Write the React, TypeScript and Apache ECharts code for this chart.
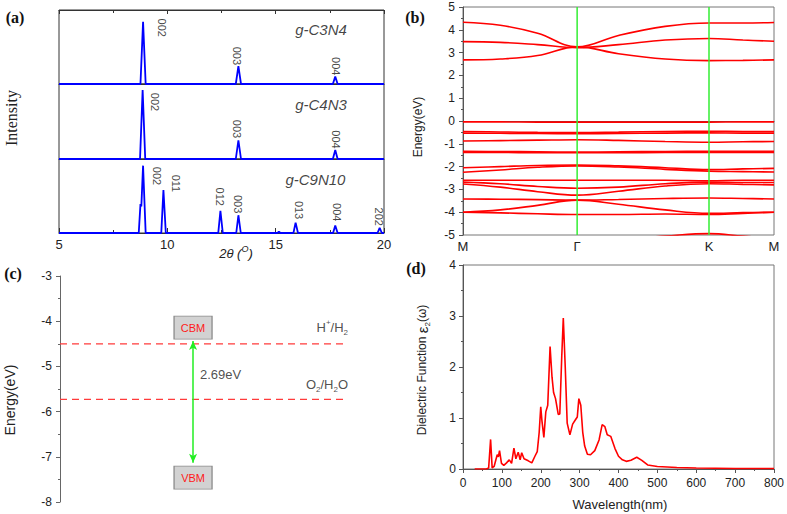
import React, { useEffect, useRef } from "react";
import * as echarts from "echarts";

const FONT = "'Liberation Sans', Arial, sans-serif";
const SERIF = "'Liberation Serif', 'Times New Roman', serif";

// ---------- (a) XRD patterns ----------
const xrdTicks = [5, 10, 15, 20];
const xrdC3N4: number[][] = [[5, 0], [8.76, 0], [8.88, 84], [9.0, 0], [13.16, 0], [13.28, 24], [13.4, 0], [17.64, 0], [17.75, 10], [17.86, 0], [20, 0]];
const xrdC4N3: number[][] = [[5, 0], [8.74, 0], [8.86, 92], [8.98, 0], [13.16, 0], [13.28, 25], [13.4, 0], [17.64, 0], [17.75, 12], [17.86, 0], [20, 0]];
const xrdC9N10: number[][] = [[5, 0], [8.68, 0], [8.76, 39], [8.8, 36], [8.88, 91], [9.0, 0], [9.72, 0], [9.82, 58], [9.93, 0], [12.35, 0], [12.45, 30], [12.56, 0], [13.18, 0], [13.28, 24], [13.39, 0], [15.08, 0], [15.15, 2], [15.22, 0], [15.82, 0], [15.92, 14], [16.03, 0], [17.65, 0], [17.75, 10], [17.86, 0], [19.7, 0], [19.8, 7], [19.9, 0], [20, 0]];
const sampleNames = ["g-C3N4", "g-C4N3", "g-C9N10"];
const peakLabelsC3N4: [number, number, string][] = [[9.77, 76, "002"], [13.22, 38, "003"], [17.77, 24, "004"]];
const peakLabelsC4N3: [number, number, string][] = [[9.45, 76, "002"], [13.23, 40, "003"], [17.77, 26, "004"]];
const peakLabelsC9N10: [number, number, string][] = [[9.52, 77, "002"], [10.42, 67, "011"], [12.45, 49, "012"], [13.28, 39, "003"], [16.08, 31, "013"], [17.83, 28, "004"], [19.77, 22, "202"]];
const sampleNamePos: [number, number][] = [[15.9, 73], [15.9, 73], [15.45, 72]];

// ---------- (b) band structure ----------
const kPath = [0, 0.367, 0.791, 1];
const kLabels = ["M", "Γ", "K", "M"];
const kSamples = [0, 0.12, 0.24, 0.367, 0.5, 0.65, 0.791, 0.9, 1];
const bands: number[][] = [
  [4.33, 4.2, 3.85, 3.25, 3.75, 4.15, 4.3, 4.3, 4.32],
  [3.48, 3.45, 3.35, 3.22, 3.35, 3.55, 3.62, 3.55, 3.5],
  [2.68, 2.72, 2.87, 3.25, 2.95, 2.72, 2.65, 2.66, 2.68],
  [-0.04, -0.04, -0.05, -0.05, -0.05, -0.05, -0.05, -0.04, -0.04],
  [-0.46, -0.48, -0.5, -0.51, -0.49, -0.46, -0.45, -0.46, -0.46],
  [-0.53, -0.54, -0.55, -0.56, -0.55, -0.53, -0.52, -0.53, -0.53],
  [-0.88, -0.86, -0.84, -0.82, -0.85, -0.9, -0.93, -0.91, -0.9],
  [-1.33, -1.34, -1.35, -1.36, -1.35, -1.34, -1.33, -1.33, -1.33],
  [-1.38, -1.38, -1.39, -1.39, -1.39, -1.38, -1.38, -1.38, -1.38],
  [-2.05, -2.0, -1.95, -1.93, -1.97, -2.05, -2.13, -2.1, -2.08],
  [-2.25, -2.15, -2.03, -1.97, -2.02, -2.12, -2.2, -2.22, -2.24],
  [-2.6, -2.6, -2.6, -2.6, -2.6, -2.6, -2.62, -2.6, -2.6],
  [-2.68, -2.75, -2.87, -2.95, -2.9, -2.75, -2.68, -2.7, -2.7],
  [-2.76, -2.9, -3.1, -3.25, -3.08, -2.85, -2.75, -2.78, -2.8],
  [-3.42, -3.43, -3.45, -3.47, -3.44, -3.4, -3.38, -3.4, -3.42],
  [-4.0, -3.9, -3.7, -3.47, -3.65, -3.9, -4.05, -4.02, -4.0],
  [-4.0, -4.03, -4.07, -4.1, -4.1, -4.08, -4.1, -4.05, -4.0],
  [-5.3, -5.3, -5.3, -5.3, -5.2, -5.05, -4.94, -5.05, -5.15],
];

// ---------- (c) band edges ----------
const cbm = -4.44;
const vbm = -7.13;
const gapText = "2.69eV";
const redoxPotentials = [-4.5, -5.73];
const edgeBoxY = [-4.14, -7.46];
const edgeNames = ["CBM", "VBM"];

// ---------- (d) dielectric function ----------
const wavelength = [30, 60, 66, 71, 75, 80, 88, 91, 94, 99, 105, 112, 119, 125, 131, 136, 142, 147, 151, 157, 168, 177, 185, 191, 196, 200, 203, 208, 213, 218, 224, 229, 233, 238, 245, 249, 254, 258, 263, 268, 275, 282, 288, 294, 298, 303, 308, 313, 320, 328, 339, 350, 358, 365, 371, 380, 391, 400, 410, 420, 432, 447, 460, 475, 500, 550, 600, 650, 700, 750, 800];
const eps2 = [0, 0, 0.02, 0.58, 0.02, 0.05, 0.28, 0.24, 0.36, 0.11, 0.07, 0.12, 0.18, 0.11, 0.41, 0.2, 0.33, 0.18, 0.32, 0.2, 0.16, 0.12, 0.25, 0.34, 0.72, 1.22, 0.95, 0.62, 1.12, 1.25, 2.4, 1.8, 1.5, 1.38, 1.07, 1.08, 2.2, 2.96, 2.0, 0.9, 0.67, 0.88, 0.95, 1.02, 1.38, 1.25, 0.72, 0.45, 0.29, 0.28, 0.36, 0.57, 0.87, 0.83, 0.67, 0.64, 0.4, 0.25, 0.18, 0.15, 0.17, 0.23, 0.17, 0.08, 0.05, 0.03, 0.02, 0.015, 0.01, 0.01, 0.01];

export default function App() {
  const ref = useRef<HTMLDivElement>(null);
  useEffect(() => {
    const chart = echarts.init(ref.current!, null, { renderer: "svg" });
    const axisGray = "#555";
    const txt = { fontFamily: FONT, color: "#222" };

    const grids = [
      { left: 59, top: 10, width: 325, height: 74 },
      { left: 59, top: 84, width: 325, height: 75 },
      { left: 59, top: 159, width: 325, height: 74 },
      { left: 463, top: 7, width: 311, height: 228 },
      { left: 60, top: 276, width: 288, height: 226 },
      { left: 463, top: 265, width: 311, height: 204 },
    ].map((g, i) => ({
      ...g,
      show: i !== 4,
      borderColor: i < 3 ? "#333" : "#777",
      borderWidth: 1,
      backgroundColor: "transparent",
      outerBoundsMode: "none",
      containLabel: false,
    }));

    const xrdX = (gi: number, labels: boolean) => ({
      type: "value", gridIndex: gi, min: 5, max: 20, interval: 5,
      axisLine: { show: true, lineStyle: { color: "#333" } },
      axisTick: { show: labels, inside: true, length: 5, lineStyle: { color: "#333" } },
      minorTick: { show: labels, splitNumber: 2, length: 3, lineStyle: { color: "#333" } },
      axisLabel: { show: labels, fontSize: 13, margin: 5, ...txt, customValues: xrdTicks },
      splitLine: { show: false },
    });

    const xAxis: any[] = [
      xrdX(0, false),
      xrdX(1, false),
      xrdX(2, true),
      { ...xrdX(0, false), position: "top", axisTick: { show: true, inside: true, length: 4, lineStyle: { color: "#333" } }, minorTick: { show: true, splitNumber: 2, length: 3, lineStyle: { color: "#333" } } },
      {
        type: "value", gridIndex: 3, min: 0, max: 1,
        axisLine: { lineStyle: { color: axisGray } },
        axisTick: { show: false }, splitLine: { show: false },
        axisLabel: {
          customValues: kPath, fontSize: 13, margin: 5, ...txt,
          formatter: (v: number) => { const i = kPath.indexOf(v); return i >= 0 ? kLabels[i] : ""; },
        },
      },
      { type: "value", gridIndex: 4, min: 0, max: 1, show: false },
      {
        type: "value", gridIndex: 5, min: 0, max: 800, interval: 100,
        axisLine: { lineStyle: { color: axisGray } },
        axisTick: { length: 4, lineStyle: { color: axisGray } },
        minorTick: { show: true, splitNumber: 2, length: 2, lineStyle: { color: axisGray } },
        axisLabel: { fontSize: 12, margin: 8, ...txt },
        splitLine: { show: false },
      },
    ];

    const yAxis: any[] = [
      { type: "value", gridIndex: 0, min: 0, max: 100, show: false },
      { type: "value", gridIndex: 1, min: 0, max: 100, show: false },
      { type: "value", gridIndex: 2, min: 0, max: 100, show: false },
      {
        type: "value", gridIndex: 3, min: -5, max: 5, interval: 1,
        axisLine: { show: true, lineStyle: { color: axisGray } },
        axisTick: { show: true, length: 4, lineStyle: { color: axisGray } },
        minorTick: { show: true, splitNumber: 2, length: 2, lineStyle: { color: axisGray } },
        axisLabel: { fontSize: 12, margin: 8, ...txt },
        splitLine: { show: false },
      },
      {
        type: "value", gridIndex: 4, min: -8, max: -3, interval: 1,
        axisLine: { show: true, lineStyle: { color: "#666" } },
        axisTick: { show: true, length: 4, lineStyle: { color: "#666" } },
        minorTick: { show: true, splitNumber: 2, length: 2, lineStyle: { color: "#666" } },
        axisLabel: { fontSize: 12, margin: 8, ...txt },
        splitLine: { show: false },
      },
      {
        type: "value", gridIndex: 5, min: 0, max: 4, interval: 1,
        axisLine: { show: true, lineStyle: { color: axisGray } },
        axisTick: { show: true, length: 4, lineStyle: { color: axisGray } },
        minorTick: { show: true, splitNumber: 2, length: 2, lineStyle: { color: axisGray } },
        axisLabel: { fontSize: 12, margin: 7, ...txt },
        splitLine: { show: false },
      },
    ];

    const series: any[] = [];
    [xrdC3N4, xrdC4N3, xrdC9N10].forEach((d, i) => {
      series.push({ type: "line", xAxisIndex: i, yAxisIndex: i, data: d, symbol: "none", silent: true, lineStyle: { color: "#0000ff", width: 1.8 } });
    });
    [peakLabelsC3N4, peakLabelsC4N3, peakLabelsC9N10].forEach((d, i) => {
      series.push({
        type: "scatter", xAxisIndex: i, yAxisIndex: i, symbolSize: 0, silent: true,
        data: d.map((p) => ({ value: [p[0], p[1]], name: p[2] })),
        label: { show: true, position: "inside", formatter: "{b}", rotate: -90, fontSize: 11, color: "#111", fontFamily: FONT },
      });
    });
    sampleNames.forEach((n, i) => {
      series.push({
        type: "scatter", xAxisIndex: i, yAxisIndex: i, symbolSize: 0, silent: true,
        data: [{ value: sampleNamePos[i], name: n }],
        label: { show: true, position: "inside", align: "left", formatter: "{b}", fontSize: 15, fontStyle: "italic", color: "#111", fontFamily: FONT },
      });
    });

    bands.forEach((b) => {
      series.push({
        type: "line", xAxisIndex: 4, yAxisIndex: 3, symbol: "none", smooth: 0.4, silent: true,
        data: b.map((e, j) => [kSamples[j], e]),
        lineStyle: { color: "#ff0000", width: 1.6 },
      });
    });
    [kPath[1], kPath[2]].forEach((k) => {
      series.push({
        type: "line", xAxisIndex: 4, yAxisIndex: 3, symbol: "none", silent: true,
        data: [[k, -5], [k, 5]], lineStyle: { color: "#33ee33", width: 1.5 },
      });
    });

    redoxPotentials.forEach((p) => {
      series.push({
        type: "line", xAxisIndex: 5, yAxisIndex: 4, symbol: "none", silent: true,
        data: [[0, p], [1, p]], lineStyle: { color: "#ff3b3b", width: 1.3, type: [7, 5] },
      });
    });
    series.push({
      type: "line", xAxisIndex: 5, yAxisIndex: 4, symbol: "none", silent: true,
      data: [[0.462, cbm]], lineStyle: { width: 0 },
      markLine: {
        silent: true, symbol: ["arrow", "arrow"], symbolSize: [6, 9],
        label: { show: false },
        lineStyle: { color: "#22ee22", width: 1.5, type: "solid" },
        data: [[{ coord: [0.462, cbm] }, { coord: [0.462, vbm] }]],
      },
    });
    series.push({
      type: "scatter", xAxisIndex: 5, yAxisIndex: 4, silent: true,
      symbol: "rect", symbolSize: [38, 23],
      itemStyle: { color: "#d2d2d2", borderColor: "#8a8a8a", borderWidth: 1, opacity: 1 },
      data: edgeNames.map((n, i) => ({ value: [0.462, edgeBoxY[i]], name: n })),
      label: { show: true, position: "inside", formatter: "{b}", fontSize: 11, color: "#ff1a1a", fontFamily: FONT },
    });
    series.push({
      type: "scatter", xAxisIndex: 5, yAxisIndex: 4, symbolSize: 0, silent: true,
      data: [
        { value: [0.486, -5.17], name: "gap" },
      ],
      label: { show: true, position: "inside", align: "left", formatter: gapText, fontSize: 13, ...txt },
    });
    series.push({
      type: "scatter", xAxisIndex: 5, yAxisIndex: 4, symbolSize: 0, silent: true,
      data: [
        { value: [1, -4.15], name: "h" },
        { value: [1, -5.41], name: "o" },
      ],
      label: {
        show: true, position: "inside", align: "right",
        formatter: (p: any) => (p.name === "h" ? "{a|H}{sup|+}{a|/H}{sub|2}" : "{a|O}{sub|2}{a|/H}{sub|2}{a|O}"),
        rich: {
          a: { fontSize: 13, fontFamily: FONT, color: "#222", lineHeight: 18, verticalAlign: "middle" },
          sup: { fontSize: 8, fontFamily: FONT, color: "#222", lineHeight: 18, verticalAlign: "top" },
          sub: { fontSize: 8, fontFamily: FONT, color: "#222", lineHeight: 18, verticalAlign: "bottom" },
        },
      },
    });

    series.push({
      type: "line", xAxisIndex: 6, yAxisIndex: 5, symbol: "none", silent: true,
      data: wavelength.map((w, i) => [w, eps2[i]]),
      lineStyle: { color: "#ff0000", width: 1.6 },
    });

    const panelLabel = (text: string, x: number, y: number) => ({
      type: "text", x, y,
      style: { text, font: `bold 16px ${SERIF}`, fill: "#111", align: "center", verticalAlign: "middle" },
    });
    const graphic: any[] = [
      panelLabel("(a)", 15, 17),
      panelLabel("(b)", 415, 17),
      panelLabel("(c)", 13, 273),
      panelLabel("(d)", 416, 268),
      {
        type: "text", x: 11, y: 118, rotation: Math.PI / 2,
        style: { text: "Intensity", font: `16px ${SERIF}`, fill: "#222", align: "center", verticalAlign: "middle" },
      },
      {
        type: "text", x: 236, y: 252,
        style: {
          text: "{i|2θ (}{s|O}{i|)}", align: "center", verticalAlign: "middle",
          rich: {
            i: { fontSize: 13, fontStyle: "italic", fontFamily: FONT, fill: "#222", lineHeight: 16, verticalAlign: "bottom" },
            s: { fontSize: 9, fontStyle: "italic", fontFamily: FONT, fill: "#222", lineHeight: 16, verticalAlign: "top" },
          },
        },
      },
      {
        type: "text", x: 418, y: 127, rotation: Math.PI / 2,
        style: { text: "Energy(eV)", font: `12px ${FONT}`, fill: "#222", align: "center", verticalAlign: "middle" },
      },
      {
        type: "text", x: 10, y: 400, rotation: Math.PI / 2,
        style: { text: "Energy(eV)", font: `14px ${FONT}`, fill: "#222", align: "center", verticalAlign: "middle" },
      },
      {
        type: "text", x: 422, y: 370, rotation: Math.PI / 2,
        style: {
          text: "{a|Dielectric Function }{e|ε}{s|2}{a|(ω)}", align: "center", verticalAlign: "middle",
          rich: {
            a: { fontSize: 12, fontFamily: FONT, fill: "#222", lineHeight: 18, verticalAlign: "middle" },
            e: { fontSize: 15, fontFamily: FONT, fill: "#222", lineHeight: 18, verticalAlign: "middle" },
            s: { fontSize: 8, fontFamily: FONT, fill: "#222", lineHeight: 18, verticalAlign: "bottom" },
          },
        },
      },
      {
        type: "text", x: 620, y: 504,
        style: { text: "Wavelength(nm)", font: `13px ${FONT}`, fill: "#222", align: "center", verticalAlign: "middle" },
      },
    ];

    chart.setOption({
      animation: false,
      backgroundColor: "#fff",
      grid: grids,
      xAxis,
      yAxis,
      series,
      graphic,
    });
    return () => chart.dispose();
  }, []);
  return <div ref={ref} style={{ position: "fixed", left: 0, top: 0, width: 787, height: 514, background: "#fff" }} />;
}
